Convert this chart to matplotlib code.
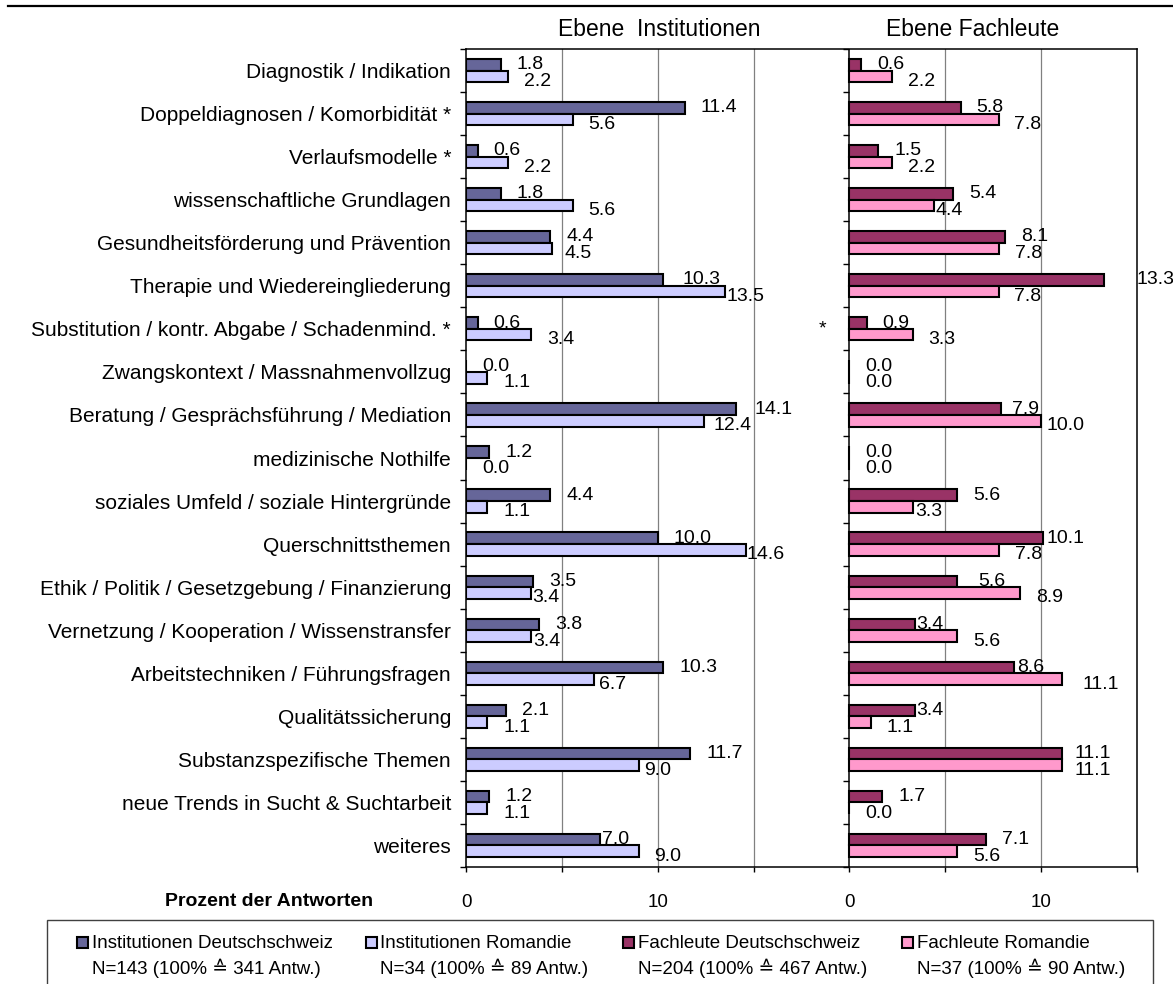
import numpy as np
import matplotlib

matplotlib.use("Agg")
import matplotlib.pyplot as plt
from matplotlib.lines import Line2D
from matplotlib.patches import Rectangle

plt.rcParams["font.family"] = ["Liberation Sans", "DejaVu Sans"]

# categories, top to bottom
categories = [
    "Diagnostik / Indikation",
    "Doppeldiagnosen / Komorbidität *",
    "Verlaufsmodelle *",
    "wissenschaftliche Grundlagen",
    "Gesundheitsförderung und Prävention",
    "Therapie und Wiedereingliederung",
    "Substitution / kontr. Abgabe / Schadenmind. *",
    "Zwangskontext / Massnahmenvollzug",
    "Beratung / Gesprächsführung / Mediation",
    "medizinische Nothilfe",
    "soziales Umfeld / soziale Hintergründe",
    "Querschnittsthemen",
    "Ethik / Politik / Gesetzgebung / Finanzierung",
    "Vernetzung / Kooperation / Wissenstransfer",
    "Arbeitstechniken / Führungsfragen",
    "Qualitätssicherung",
    "Substanzspezifische Themen",
    "neue Trends in Sucht & Suchtarbeit",
    "weiteres",
]

# percent of answers
inst_ch_d = [1.8, 11.4, 0.6, 1.8, 4.4, 10.3, 0.6, 0.0, 14.1, 1.2,
             4.4, 10.0, 3.5, 3.8, 10.3, 2.1, 11.7, 1.2, 7.0]
inst_rom = [2.2, 5.6, 2.2, 5.6, 4.5, 13.5, 3.4, 1.1, 12.4, 0.0,
            1.1, 14.6, 3.4, 3.4, 6.7, 1.1, 9.0, 1.1, 9.0]
fach_ch_d = [0.6, 5.8, 1.5, 5.4, 8.1, 13.3, 0.9, 0.0, 7.9, 0.0,
             5.6, 10.1, 5.6, 3.4, 8.6, 3.4, 11.1, 1.7, 7.1]
fach_rom = [2.2, 7.8, 2.2, 4.4, 7.8, 7.8, 3.3, 0.0, 10.0, 0.0,
            3.3, 7.8, 8.9, 5.6, 11.1, 1.1, 11.1, 0.0, 5.6]

series_names = ["Institutionen Deutschschweiz", "Institutionen Romandie",
                "Fachleute Deutschschweiz", "Fachleute Romandie"]
series_n = ["N=143 (100% \u2259 341 Antw.)", "N=34 (100% \u2259 89 Antw.)",
            "N=204 (100% \u2259 467 Antw.)", "N=37 (100% \u2259 90 Antw.)"]

C_INST_D = "#666699"
C_INST_R = "#CCCCFF"
C_FACH_D = "#993366"
C_FACH_R = "#FF99CC"
C_GRID = "#808080"

W, H = 1173, 984
PX = 72 / 100          # points per pixel at dpi 100
OFFSET = 20            # the Fachleute panel starts at x=20 on the shared axis
BAR_H = 0.27

# hand-placed value labels: (series, row) -> x shift in px from the bar end
label_dx = {
    (0, 5): 19, (0, 8): 18, (0, 18): 2,
    (1, 1): 15, (1, 3): 15, (1, 4): 12, (1, 5): 2, (1, 8): 10,
    (1, 11): 1, (1, 12): 1, (1, 13): 2, (1, 14): 5, (1, 16): 6,
    (2, 5): 32, (2, 8): 11, (2, 11): 3, (2, 12): 21, (2, 13): 2,
    (2, 14): 3, (2, 15): 2, (2, 16): 12,
    (3, 1): 15, (3, 3): 2, (3, 5): 15, (3, 8): 5, (3, 10): 3,
    (3, 14): 20, (3, 16): 12,
}


def fx(px):
    return px / W


def fy(py):
    return 1 - py / H


def draw_bars(ax, vals_top, vals_bot, c_top, c_bot, x0, sid):
    y = np.arange(len(vals_top))
    ax.barh(y - BAR_H / 2, vals_top, height=BAR_H, left=x0, color=c_top,
            edgecolor="black", linewidth=1.5, zorder=3)
    ax.barh(y + BAR_H / 2, vals_bot, height=BAR_H, left=x0, color=c_bot,
            edgecolor="black", linewidth=1.5, zorder=3)
    for k, (vals, dy) in enumerate(((vals_top, 0), (vals_bot, -5))):
        for i, v in enumerate(vals):
            dx = label_dx.get((sid + k, i), 16)
            ax.annotate(f"{v:.1f}", (x0 + v, i + (k - 0.5) * BAR_H),
                        xytext=(dx * PX, dy * PX), textcoords="offset points",
                        ha="left", va="center", fontsize=14, zorder=4)


fig = plt.figure(figsize=(W / 100, H / 100), dpi=100)
ax = fig.add_axes([fx(466), fy(867), (1137 - 466) / W, (867 - 49) / H])

n = len(categories)
ax.set_xlim(0, 35)
ax.set_ylim(n - 0.5, -0.5)

for xg in (5, 10, 15, 25, 30):
    ax.axvline(xg, color=C_GRID, lw=0.9, zorder=1)
ax.axvline(OFFSET, color="black", lw=1.1, zorder=2)

draw_bars(ax, inst_ch_d, inst_rom, C_INST_D, C_INST_R, 0, 0)
draw_bars(ax, fach_ch_d, fach_rom, C_FACH_D, C_FACH_R, OFFSET, 2)

for sp in ax.spines.values():
    sp.set_linewidth(1.1)

# category labels at the row centres, tick marks at the row boundaries
ax.set_yticks(np.arange(n))
ax.set_yticklabels(categories, fontsize=15)
ax.set_yticks(np.arange(n + 1) - 0.5, minor=True)
ax.tick_params(axis="y", which="major", length=0, pad=15 * PX)
ax.tick_params(axis="y", which="minor", length=6 * PX, width=1.0)
tick_len = 6 / ((1137 - 466) / 35)
ax.hlines(np.arange(n + 1) - 0.5, OFFSET - tick_len, OFFSET, color="black",
          lw=1.0, zorder=2, clip_on=False)

ax.set_xticks(np.arange(0, 36, 5))
ax.set_xticklabels(["0", "", "10", "", "0", "", "10", ""], fontsize=13.5)
ax.tick_params(axis="x", length=5 * PX, width=1.0, pad=22 * PX)

ax.text(18.6, 6, "*", ha="center", va="center", fontsize=14)

fig.text(fx(659), fy(30), "Ebene  Institutionen", ha="center", va="center",
         fontsize=16.5)
fig.text(fx(973), fy(30), "Ebene Fachleute", ha="center", va="center",
         fontsize=16.5)
fig.text(fx(373), fy(902), "Prozent der Antworten", ha="right", va="center",
         fontsize=14, fontweight="bold")

fig.add_artist(Line2D([fx(8), 1], [fy(6), fy(6)], color="black", lw=1.6))

# legend box
fig.add_artist(Rectangle((fx(47), fy(992)), fx(1153) - fx(47), (992 - 920) / H,
                         transform=fig.transFigure, facecolor="none",
                         edgecolor="#404040", lw=1.0))
colors = [C_INST_D, C_INST_R, C_FACH_D, C_FACH_R]
mark_x = [77, 366, 623, 902]
text_x = [92, 380, 638, 917]
for name, nn, c, mx, tx in zip(series_names, series_n, colors, mark_x, text_x):
    fig.add_artist(Rectangle((fx(mx), fy(948)), 11 / W, 11 / H,
                             transform=fig.transFigure, facecolor=c,
                             edgecolor="black", lw=1.5))
    fig.text(fx(tx), fy(943), name, ha="left", va="center", fontsize=13.5)
    fig.text(fx(tx), fy(968), nn, ha="left", va="center", fontsize=13.5)

fig.savefig("out.png", dpi=100)
